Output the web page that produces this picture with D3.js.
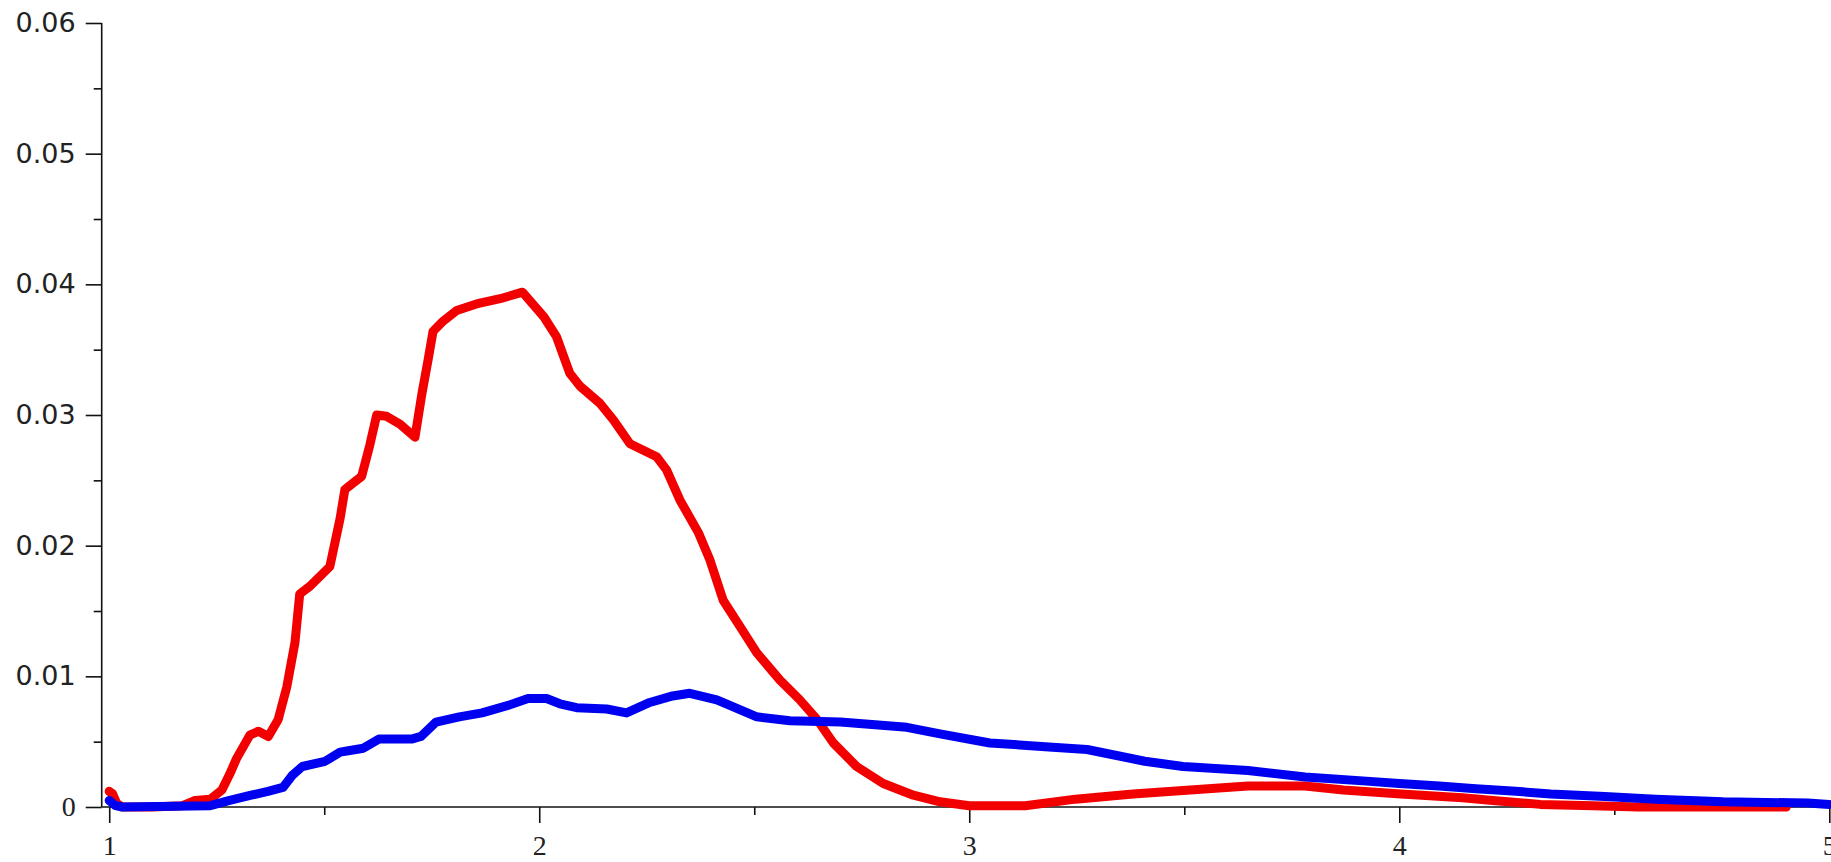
<!DOCTYPE html>
<html>
<head>
<meta charset="utf-8">
<script src="https://cdn.jsdelivr.net/npm/d3@7"></script>
<style>
  html, body { margin: 0; padding: 0; background: #ffffff; overflow: hidden; }
  svg { display: block; }
</style>
</head>
<body>
<svg id="chart" width="1831" height="862"></svg>
<script>
// Red series: sample points (x, density)
const redX = [1.000, 1.008, 1.017, 1.030, 1.100, 1.170, 1.200, 1.235, 1.262, 1.280, 1.296, 1.327, 1.347, 1.370, 1.393,
  1.413, 1.432, 1.443, 1.467, 1.513, 1.537, 1.548, 1.587, 1.606, 1.622, 1.645, 1.676, 1.711, 1.727, 1.742,
  1.753, 1.777, 1.808, 1.854, 1.909, 1.961, 2.011, 2.040, 2.071, 2.095, 2.141, 2.173, 2.211, 2.273, 2.296,
  2.327, 2.370, 2.397, 2.428, 2.467, 2.506, 2.560, 2.606, 2.646, 2.684, 2.738, 2.800, 2.870, 2.932, 3.000,
  3.130, 3.247, 3.381, 3.514, 3.648, 3.781, 3.870, 4.004, 4.147, 4.218, 4.328, 4.450, 4.556, 4.900];
const redY = [0.0012, 0.0010, 0.0003, 0.0000, 0.0000, 0.0001, 0.0005, 0.0006, 0.0013, 0.0025, 0.0037, 0.0055, 0.0058, 0.0054, 0.0067,
  0.0092, 0.0126, 0.0163, 0.0169, 0.0184, 0.0221, 0.0243, 0.0253, 0.0277, 0.0300, 0.0299, 0.0293, 0.0283, 0.0316, 0.0343,
  0.0364, 0.0372, 0.0380, 0.0385, 0.0389, 0.0394, 0.0375, 0.0360, 0.0332, 0.0322, 0.0309, 0.0296, 0.0278, 0.0268, 0.0258,
  0.0235, 0.0210, 0.0189, 0.0158, 0.0138, 0.0118, 0.0097, 0.0082, 0.0067, 0.0049, 0.0031, 0.0018, 0.0009, 0.0004, 0.0001,
  0.0001, 0.0006, 0.0010, 0.0013, 0.0016, 0.0016, 0.0013, 0.0010, 0.0007, 0.0005, 0.0002, 0.0001, 0.0000, 0.0000];

// Blue series: sample points (x, density)
const blueX = [1.000, 1.015, 1.030, 1.235, 1.280, 1.330, 1.369, 1.404, 1.425, 1.449, 1.502, 1.537, 1.556, 1.591, 1.627,
  1.703, 1.725, 1.760, 1.814, 1.867, 1.930, 1.974, 2.017, 2.048, 2.087, 2.157, 2.203, 2.257, 2.310, 2.350,
  2.413, 2.506, 2.583, 2.700, 2.855, 2.932, 3.048, 3.185, 3.274, 3.408, 3.497, 3.648, 3.781, 3.915, 4.000,
  4.093, 4.178, 4.271, 4.352, 4.478, 4.596, 4.753, 4.950, 5.000];
const blueY = [0.0005, 0.0001, 0.0000, 0.0001, 0.0005, 0.0009, 0.0012, 0.0015, 0.0024, 0.0031, 0.0035, 0.0042, 0.0043, 0.0045, 0.0052,
  0.0052, 0.0054, 0.0065, 0.0069, 0.0072, 0.0078, 0.0083, 0.0083, 0.0079, 0.0076, 0.0075, 0.0072, 0.0080, 0.0085, 0.0087,
  0.0082, 0.0069, 0.0066, 0.0065, 0.0061, 0.0056, 0.0049, 0.0046, 0.0044, 0.0035, 0.0031, 0.0028, 0.0023, 0.0020, 0.0018,
  0.0016, 0.0014, 0.0012, 0.0010, 0.0008, 0.0006, 0.0004, 0.0003, 0.0002];

// Axis ticks
const xMajorTicks = [1, 2, 3, 4, 5];
const xMinorTicks = [1.5, 2.5, 3.5, 4.5];
const yMajorTicks = [0, 0.01, 0.02, 0.03, 0.04, 0.05, 0.06];
const yMinorTicks = [0.005, 0.015, 0.025, 0.035, 0.045, 0.055];
const yTickLabels = ["0", "0.01", "0.02", "0.03", "0.04", "0.05", "0.06"];

const svg = d3.select("#chart");

const x = d3.scaleLinear().domain([0.9825, 5]).range([101.7, 1829.3]);
const y = d3.scaleLinear().domain([0, 0.06]).range([807, 23]);

const axisColor = "#111";

// x axis
const gx = svg.append("g").attr("transform", `translate(0,${y(0)})`);
gx.call(d3.axisBottom(x).tickValues(xMajorTicks).tickSize(16).tickSizeOuter(0)
  .tickFormat(d3.format("d")).tickPadding(12));
gx.select(".domain").remove();
gx.append("line").attr("x1", x.range()[0]).attr("x2", 1831).attr("y1", 0).attr("y2", 0)
  .attr("stroke", axisColor).attr("stroke-width", 1.6);
gx.selectAll(".tick line").attr("stroke", axisColor).attr("stroke-width", 1.6);
gx.selectAll(".tick text")
  .attr("font-family", "'Liberation Serif', 'Times New Roman', serif")
  .attr("font-size", 28).attr("fill", "#222");
const gxMinor = svg.append("g").attr("transform", `translate(0,${y(0)})`);
gxMinor.call(d3.axisBottom(x).tickValues(xMinorTicks).tickSize(8).tickSizeOuter(0).tickFormat(""));
gxMinor.select(".domain").remove();
gxMinor.selectAll(".tick line").attr("stroke", axisColor).attr("stroke-width", 1.6);

// y axis
const gy = svg.append("g").attr("transform", `translate(${x.range()[0]},0)`);
gy.call(d3.axisLeft(y).tickValues(yMajorTicks).tickSize(16).tickSizeOuter(0)
  .tickFormat((d, i) => yTickLabels[i]).tickPadding(10));
gy.select(".domain").remove();
gy.append("line").attr("x1", 0).attr("x2", 0).attr("y1", y(0.06)).attr("y2", y(0))
  .attr("stroke", axisColor).attr("stroke-width", 1.6);
gy.selectAll(".tick line").attr("stroke", axisColor).attr("stroke-width", 1.6);
gy.selectAll(".tick text")
  .attr("font-family", d => d === 0 ? "'Liberation Serif', 'Times New Roman', serif" : "'DejaVu Sans', Verdana, sans-serif")
  .attr("font-size", d => d === 0 ? 28 : 27)
  .attr("fill", "#222");
const gyMinor = svg.append("g").attr("transform", `translate(${x.range()[0]},0)`);
gyMinor.call(d3.axisLeft(y).tickValues(yMinorTicks).tickSize(8).tickSizeOuter(0).tickFormat(""));
gyMinor.select(".domain").remove();
gyMinor.selectAll(".tick line").attr("stroke", axisColor).attr("stroke-width", 1.6);

// curves
const line = d3.line().x(d => x(d[0])).y(d => y(d[1])).curve(d3.curveLinear);
const redData = redX.map((v, i) => [v, redY[i]]);
const blueData = blueX.map((v, i) => [v, blueY[i]]);

svg.append("path").datum(redData).attr("d", line)
  .attr("fill", "none").attr("stroke", "#f20000").attr("stroke-width", 9)
  .attr("stroke-linejoin", "round").attr("stroke-linecap", "round");
svg.append("path").datum(blueData).attr("d", line)
  .attr("fill", "none").attr("stroke", "#0000f0").attr("stroke-width", 9)
  .attr("stroke-linejoin", "round").attr("stroke-linecap", "round");
</script>
</body>
</html>
